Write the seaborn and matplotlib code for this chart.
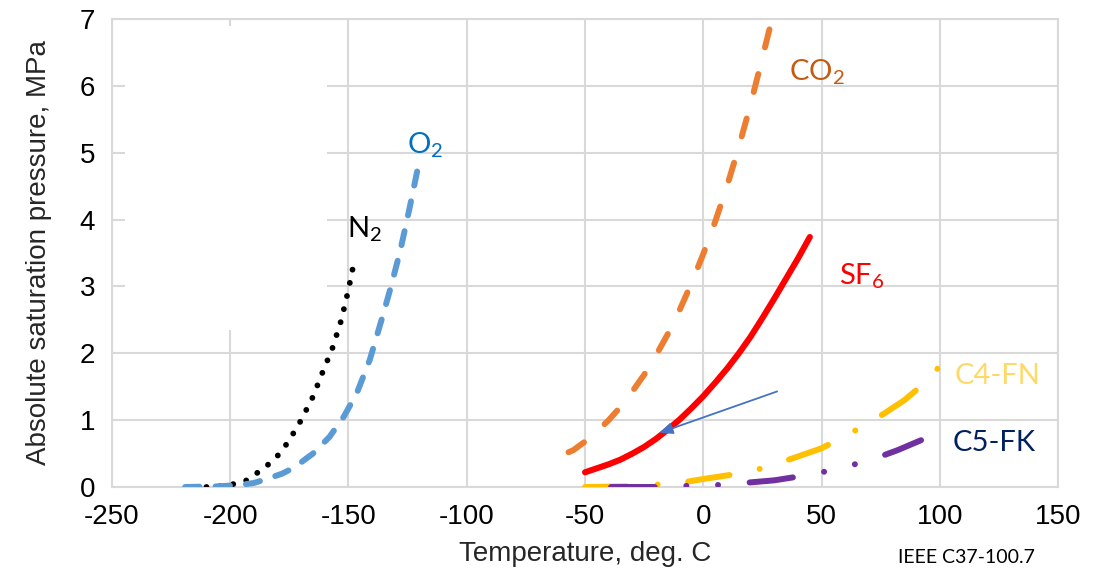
import matplotlib
matplotlib.use("Agg")
import matplotlib.pyplot as plt
from matplotlib.patches import Rectangle
import seaborn as sns
import pandas as pd

# saturation curves (deg C, MPa)
n2_t = [-210, -205, -200, -193, -185, -179, -175, -170, -165, -160, -157, -153, -150, -148]
n2_p = [0.0, 0.01, 0.03, 0.1, 0.3, 0.5, 0.7, 1.0, 1.35, 1.8, 2.05, 2.5, 2.95, 3.3]
o2_t = [-219, -205, -196, -190, -184.5, -178, -173, -165, -158, -152, -146.5, -141, -136, -132, -128, -124, -120.5]
o2_p = [0.0, 0.01, 0.03, 0.06, 0.12, 0.2, 0.29, 0.5, 0.75, 1.05, 1.4, 1.9, 2.5, 3.0, 3.55, 4.2, 4.8]
co2_t = [-57, -55, -50, -45, -40, -35, -30, -25, -20, -15, -10, -5, 0, 5, 10, 15, 20, 25, 29]
co2_p = [0.52, 0.55, 0.68, 0.83, 1.0, 1.2, 1.43, 1.68, 1.97, 2.29, 2.65, 3.05, 3.49, 3.97, 4.5, 5.09, 5.73, 6.43, 7.0]
sf6_t = [-50, -45, -40, -35, -30, -25, -20, -15, -10, -5, 0, 5, 10, 15, 20, 25, 30, 35, 40, 45]
sf6_p = [0.22, 0.28, 0.34, 0.41, 0.5, 0.6, 0.72, 0.86, 1.01, 1.18, 1.36, 1.56, 1.77, 2.0, 2.25, 2.53, 2.82, 3.12, 3.42, 3.74]
c4fn_t = [-50, -30, -10, 0, 15, 25, 37, 50, 56, 66, 76, 85, 93, 100]
c4fn_p = [0.0, 0.01, 0.06, 0.12, 0.2, 0.28, 0.42, 0.58, 0.69, 0.88, 1.09, 1.3, 1.54, 1.81]
c5fk_t = [-39, -20, -5, 6, 17, 30, 39, 50, 61, 72, 82, 92]
c5fk_p = [0.0, 0.0, 0.02, 0.03, 0.06, 0.1, 0.15, 0.22, 0.31, 0.42, 0.55, 0.7]

x_ticks = [-250, -200, -150, -100, -50, 0, 50, 100, 150]
y_ticks = [0, 1, 2, 3, 4, 5, 6, 7]

sns.set_style("white")
plt.rcParams["font.family"] = ["Liberation Sans", "DejaVu Sans"]
plt.rcParams["axes.unicode_minus"] = False
plt.rcParams["mathtext.fontset"] = "custom"
plt.rcParams["mathtext.rm"] = "Lato"
plt.rcParams["mathtext.it"] = "Lato"

fig = plt.figure(figsize=(11.07, 5.72), dpi=100)
ax = fig.add_axes([0.101, 0.1486, 0.855, 0.818])

grid_c = "#D9D9D9"
ax.set_xlim(-250, 150)
ax.set_ylim(0, 7)
ax.set_xticks(x_ticks)
ax.set_yticks(y_ticks)
ax.grid(True, color=grid_c, lw=1.5, zorder=0)
ax.set_axisbelow(True)
for s in ax.spines.values():
    s.set_color(grid_c)
    s.set_linewidth(1.5)
ax.tick_params(axis="both", length=7, width=1.5, color=grid_c, labelsize=20,
               labelcolor="black", pad=5, direction="out")

# white patch hiding part of the grid in the original
ax.add_patch(Rectangle((-244.5, 2.35), 85.5, 4.55, facecolor="white",
                       edgecolor="none", zorder=0.9))

gases = [
    (n2_t, n2_p, "black", 4.2, (0, (0.01, 2.3)), "round"),
    (o2_t, o2_p, "#5B9BD5", 4.3, (0, (2.4, 2.7)), "round"),
    (co2_t, co2_p, "#ED7D31", 4.3, (0, (3.1, 4.6)), "round"),
    (sf6_t, sf6_p, "#FF0000", 4.4, "-", "round"),
    (c4fn_t, c4fn_p, "#FFC000", 4.3, (0, (7, 5.15, 0.01, 5.15)), "round"),
    (c5fk_t, c5fk_p, "#7030A0", 4.3, (0, (7.3, 5.3, 0.01, 5.3, 0.01, 5.3)), "round"),
]
for t, p, col, lw, ls, cap in gases:
    df = pd.DataFrame({"T": t, "P": p})
    sns.lineplot(data=df, x="T", y="P", ax=ax, estimator=None, sort=False,
                 color=col, lw=lw, zorder=3)
    ln = ax.lines[-1]
    ln.set_linestyle(ls)
    ln.set_dash_capstyle(cap)
    ln.set_solid_capstyle(cap)
    ln.set_solid_joinstyle("round")

lab_kw = dict(fontsize=21, family="Lato", ha="left", va="baseline")
ax.text(-150.6, 3.74, r"N$_2$", color="black", **lab_kw)
ax.text(-125.3, 4.99, r"O$_2$", color="#0070C0", **lab_kw)
ax.text(36.3, 6.08, r"CO$_2$", color="#C55A11", **lab_kw)
ax.text(57.4, 3.03, r"SF$_6$", color="#FF0000", **lab_kw)
ax.text(106.3, 1.54, "C4-FN", color="#FFD966", **lab_kw)
ax.text(105.5, 0.54, "C5-FK", color="#002060", **lab_kw)

ax.annotate("", xy=(-18.6, 0.81), xytext=(31.2, 1.43),
            arrowprops=dict(arrowstyle="-|>,head_length=0.8,head_width=0.35",
                            color="#4472C4", lw=1.3, shrinkA=0, shrinkB=0),
            zorder=4)

ax.set_xlabel("Temperature, deg. C", fontsize=20, labelpad=8)
ax.set_ylabel("Absolute saturation pressure, MPa", fontsize=20, labelpad=20)

fig.text(0.811, 0.016, "IEEE C37-100.7", fontsize=14, family="Lato", color="black")

fig.savefig("out.png", dpi=100, facecolor="white")
